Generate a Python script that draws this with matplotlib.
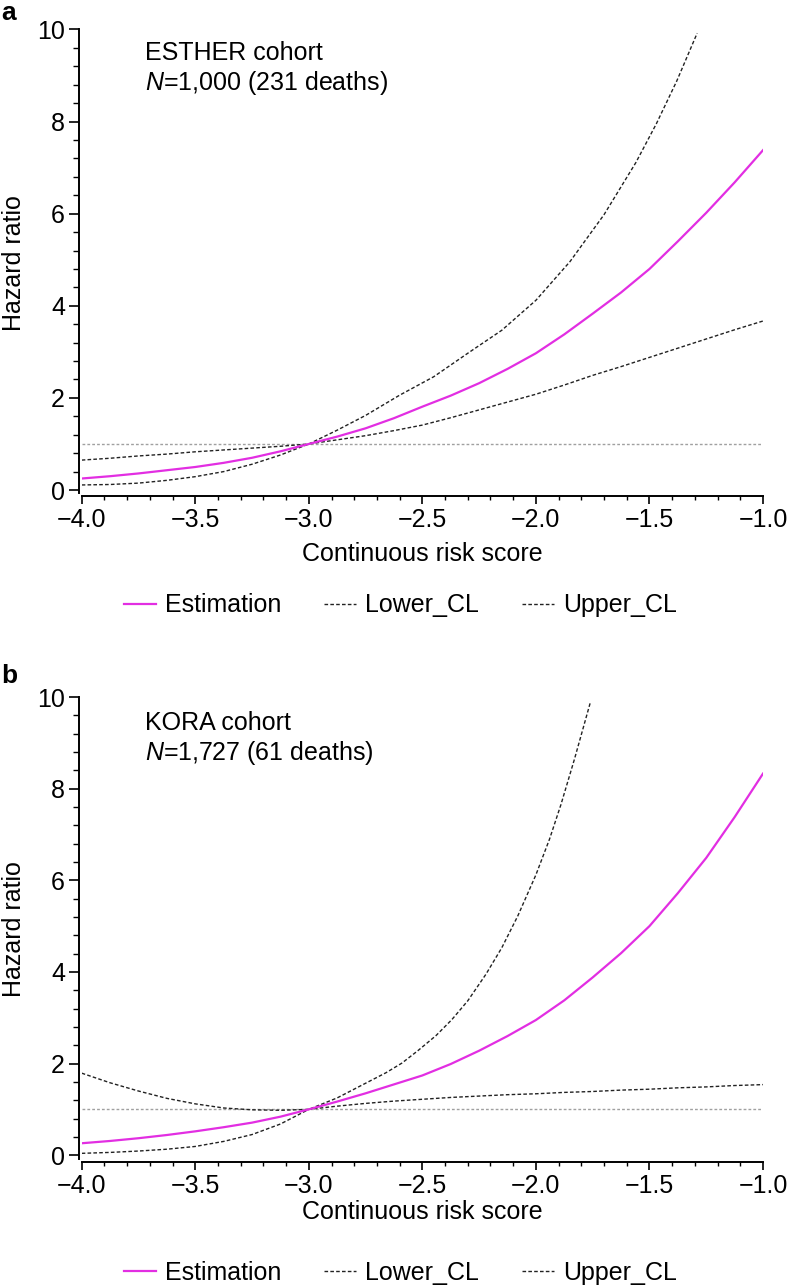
import matplotlib
matplotlib.use("Agg")
import matplotlib.pyplot as plt
from matplotlib.ticker import MultipleLocator, FuncFormatter

plt.rcParams['font.family'] = ['Liberation Sans', 'DejaVu Sans']
plt.rcParams['mathtext.fontset'] = 'custom'
plt.rcParams['mathtext.it'] = 'Liberation Sans:italic'
plt.rcParams['mathtext.rm'] = 'Liberation Sans'

# ---- data ----
x_grid = [-4.0, -3.875, -3.75, -3.625, -3.5, -3.375, -3.25, -3.125, -3.0,
          -2.875, -2.75, -2.625, -2.5, -2.375, -2.25, -2.125, -2.0,
          -1.875, -1.75, -1.625, -1.5, -1.375, -1.25, -1.125, -1.0]

# panel a: ESTHER
est_a = [0.25, 0.30, 0.36, 0.43, 0.50, 0.59, 0.70, 0.84, 1.0,
         1.16, 1.34, 1.56, 1.81, 2.05, 2.32, 2.63, 2.97,
         3.38, 3.83, 4.29, 4.80, 5.40, 6.02, 6.68, 7.38]
lower_a = [0.11, 0.12, 0.15, 0.21, 0.29, 0.40, 0.56, 0.76, 1.0,
           1.09, 1.18, 1.29, 1.41, 1.57, 1.74, 1.91, 2.08,
           2.28, 2.49, 2.68, 2.88, 3.08, 3.28, 3.48, 3.67]
x_upper_a = [-4.0, -3.875, -3.75, -3.625, -3.5, -3.375, -3.25, -3.125, -3.0,
             -2.875, -2.75, -2.6, -2.45, -2.3, -2.15, -2.0,
             -1.85, -1.7, -1.56, -1.47, -1.38, -1.29]
upper_a = [0.65, 0.69, 0.74, 0.78, 0.83, 0.87, 0.91, 0.95, 1.0,
           1.30, 1.62, 2.06, 2.46, 2.97, 3.47, 4.12,
           4.96, 5.98, 7.11, 7.95, 8.88, 9.92]

# panel b: KORA
est_b = [0.26, 0.31, 0.37, 0.44, 0.52, 0.61, 0.71, 0.84, 1.0,
         1.17, 1.35, 1.545, 1.74, 1.99, 2.28, 2.60, 2.95,
         3.38, 3.88, 4.41, 5.00, 5.72, 6.49, 7.38, 8.33]
lower_b = [0.04, 0.06, 0.09, 0.13, 0.19, 0.30, 0.45, 0.68, 1.0,
           1.07, 1.13, 1.18, 1.22, 1.26, 1.29, 1.32, 1.34,
           1.37, 1.39, 1.42, 1.44, 1.47, 1.49, 1.52, 1.54]
x_upper_b = [-4.0, -3.875, -3.75, -3.625, -3.5, -3.375, -3.25, -3.125, -3.0,
             -2.875, -2.75, -2.66, -2.59, -2.52, -2.44, -2.37, -2.3,
             -2.22, -2.15, -2.08, -2.0, -1.94, -1.89, -1.83, -1.76]
upper_b = [1.79, 1.58, 1.40, 1.24, 1.12, 1.03, 0.99, 0.98, 1.0,
           1.25, 1.57, 1.80, 2.01, 2.28, 2.61, 2.96, 3.37,
           3.95, 4.53, 5.22, 6.12, 6.90, 7.65, 8.65, 9.89]

panels = [
    ('a', 'ESTHER cohort', '$N$=1,000 (231 deaths)', est_a, lower_a, x_upper_a, upper_a),
    ('b', 'KORA cohort', '$N$=1,727 (61 deaths)', est_b, lower_b, x_upper_b, upper_b),
]

# ---- layout (figure fractions) ----
fig = plt.figure(figsize=(7.88, 12.88), dpi=100)
axes_pos = [[0.1037, 0.6149, 0.8646, 0.3622], [0.1037, 0.0978, 0.8646, 0.3610]]
ymins = [-0.13, -0.15]
xlab_y = [-0.124, -0.108]
legend_y = [0.530, 0.0116]
letter_y = [0.9845, 0.4697]
text_y = [(9.48, 8.83), (9.43, 8.78)]

magenta = '#e22ee2'
fs = 18

for i, (letter, title, ntext, est, low, xu, upp) in enumerate(panels):
    ax = fig.add_axes(axes_pos[i])
    ax.axhline(1.0, color='#a0a0a0', lw=1.0, dashes=(2, 1.5), zorder=1)
    ax.plot(x_grid, est, color=magenta, lw=1.6, label='Estimation', zorder=3)
    ax.plot(x_grid, low, color='#222222', lw=1.0, dashes=(2.6, 1.6), label='Lower_CL', zorder=2)
    ax.plot(xu, upp, color='#222222', lw=1.0, dashes=(2.6, 1.6), label='Upper_CL', zorder=2)

    ax.set_xlim(-4.0, -1.0)
    ax.set_ylim(ymins[i], 10.0)
    for s in ['top', 'right']:
        ax.spines[s].set_visible(False)
    ax.spines['left'].set_position(('outward', 2))
    ax.spines['left'].set_bounds(ymins[i] + 0.06, 10.0)
    ax.spines['bottom'].set_bounds(-4.0, -1.0)
    for s in ['left', 'bottom']:
        ax.spines[s].set_linewidth(1.4)

    ax.xaxis.set_major_locator(MultipleLocator(0.5))
    ax.xaxis.set_minor_locator(MultipleLocator(0.1))
    ax.yaxis.set_major_locator(MultipleLocator(2))
    ax.yaxis.set_minor_locator(MultipleLocator(0.4))
    ax.xaxis.set_major_formatter(FuncFormatter(lambda v, p: ('%.1f' % v).replace('-', '\u2212')))
    ax.yaxis.set_major_formatter(FuncFormatter(lambda v, p: '%d' % round(v)))
    ax.tick_params(axis='y', which='major', length=7, width=1.2, pad=3, labelsize=fs)
    ax.tick_params(axis='y', which='minor', length=4, width=1.0)
    ax.tick_params(axis='x', which='major', length=5.5, width=1.2, pad=3, labelsize=fs)
    ax.tick_params(axis='x', which='minor', length=3, width=1.0)

    ax.set_xlabel('Continuous risk score', fontsize=fs)
    ax.xaxis.label.set_va('center')
    ax.xaxis.set_label_coords(0.5, xlab_y[i])
    ax.set_ylabel('Hazard ratio', fontsize=fs)
    ax.yaxis.label.set_va('center')
    ax.yaxis.set_label_coords(-0.1, 0.5)

    ax.text(-3.72, text_y[i][0], title, fontsize=fs, va='center', ha='left')
    ax.text(-3.72, text_y[i][1], ntext, fontsize=fs, va='center', ha='left')

    ax.legend(loc='center', bbox_to_anchor=(0.508, legend_y[i]), bbox_transform=fig.transFigure,
              ncol=3, frameon=False, fontsize=fs, handlelength=1.3, handletextpad=0.35,
              columnspacing=1.7)

    fig.text(0.002, letter_y[i], letter, fontsize=19, fontweight='bold', va='baseline', ha='left')

fig.savefig('out.png', dpi=100)
